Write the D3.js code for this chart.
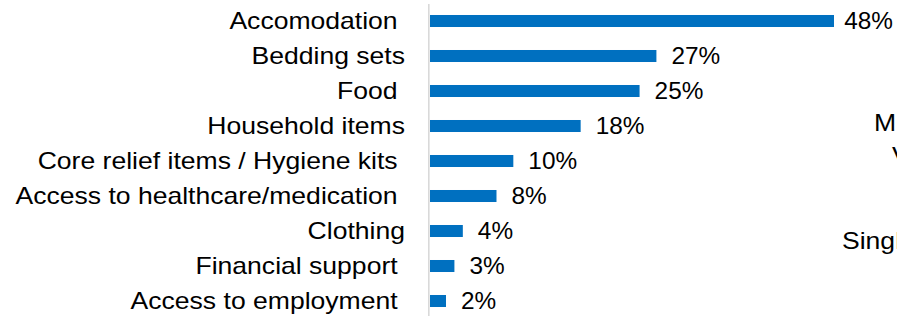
<!DOCTYPE html>
<html>
<head>
<meta charset="utf-8">
<script src="https://cdn.jsdelivr.net/npm/d3@7"></script>
<style>
  html, body { margin: 0; padding: 0; background: #fff; }
  svg { display: block; }
  text { font-family: "Liberation Sans", Arial, sans-serif; fill: #000; white-space: pre; }
</style>
</head>
<body>
<svg id="chart" width="897" height="316"></svg>
<script>
const categories = [
  "Accomodation ",
  "Bedding sets",
  "Food ",
  "Household items",
  "Core relief items / Hygiene kits ",
  "Access to healthcare/medication ",
  "Clothing",
  "Financial support ",
  "Access to employment "
];
const values = [48, 26.9, 24.9, 17.9, 9.9, 7.9, 3.9, 2.9, 1.9];
const valueLabels = ["48%", "27%", "25%", "18%", "10%", "8%", "4%", "3%", "2%"];
const xMax = 50;
const sideTexts = [
  { t: "M", x: 874, y: 131 },
  { t: "V", x: 892, y: 164 },
  { t: "Singl", x: 842, y: 248.5 }
];

const svg = d3.select("#chart");
const W = 897;
const fontSize = 23;
const stretch = 1.155;
const valFont = 23;
const valStretch = 1.06;

const x = d3.scaleLinear().domain([0, xMax]).range([430, 430 + 404 / 48 * xMax]);
const y = d3.scaleBand().domain(categories).range([3.5, 318.5]).paddingInner(0.657).paddingOuter(0.3285);

// bars
svg.selectAll("rect.bar")
  .data(values)
  .enter().append("rect")
  .attr("class", "bar")
  .attr("x", x(0))
  .attr("y", (d, i) => y(categories[i]))
  .attr("width", d => x(d) - x(0))
  .attr("height", y.bandwidth())
  .attr("fill", "#0070C0");

// axis line
svg.append("line")
  .attr("x1", 428.8).attr("x2", 428.8)
  .attr("y1", 4).attr("y2", 316)
  .attr("stroke", "#d9d9d9").attr("stroke-width", 1.6);

const cy = c => y(c) + y.bandwidth() / 2;

// category labels
svg.selectAll("text.cat")
  .data(categories)
  .enter().append("text")
  .attr("class", "cat")
  .attr("transform", d => `translate(405,${cy(d)}) scale(${stretch},1)`)
  .attr("text-anchor", "end")
  .attr("dy", "0.36em")
  .attr("font-size", fontSize)
  .text(d => d);

// value labels (kept inside the picture when near the right edge)
svg.selectAll("text.val")
  .data(values)
  .enter().append("text")
  .attr("class", "val")
  .attr("dy", "0.36em")
  .attr("font-size", valFont)
  .text((d, i) => valueLabels[i])
  .each(function (d, i) {
    const w = this.getComputedTextLength() * valStretch;
    const tx = Math.min(x(d) + 15, W - 4 - w);
    d3.select(this).attr("transform", `translate(${tx},${cy(categories[i])}) scale(${valStretch},1)`);
  });

// clipped texts from adjacent chart
svg.selectAll("text.side")
  .data(sideTexts)
  .enter().append("text")
  .attr("class", "side")
  .attr("transform", d => `translate(${d.x},${d.y}) scale(${stretch},1)`)
  .attr("font-size", fontSize)
  .text(d => d.t);
</script>
</body>
</html>
